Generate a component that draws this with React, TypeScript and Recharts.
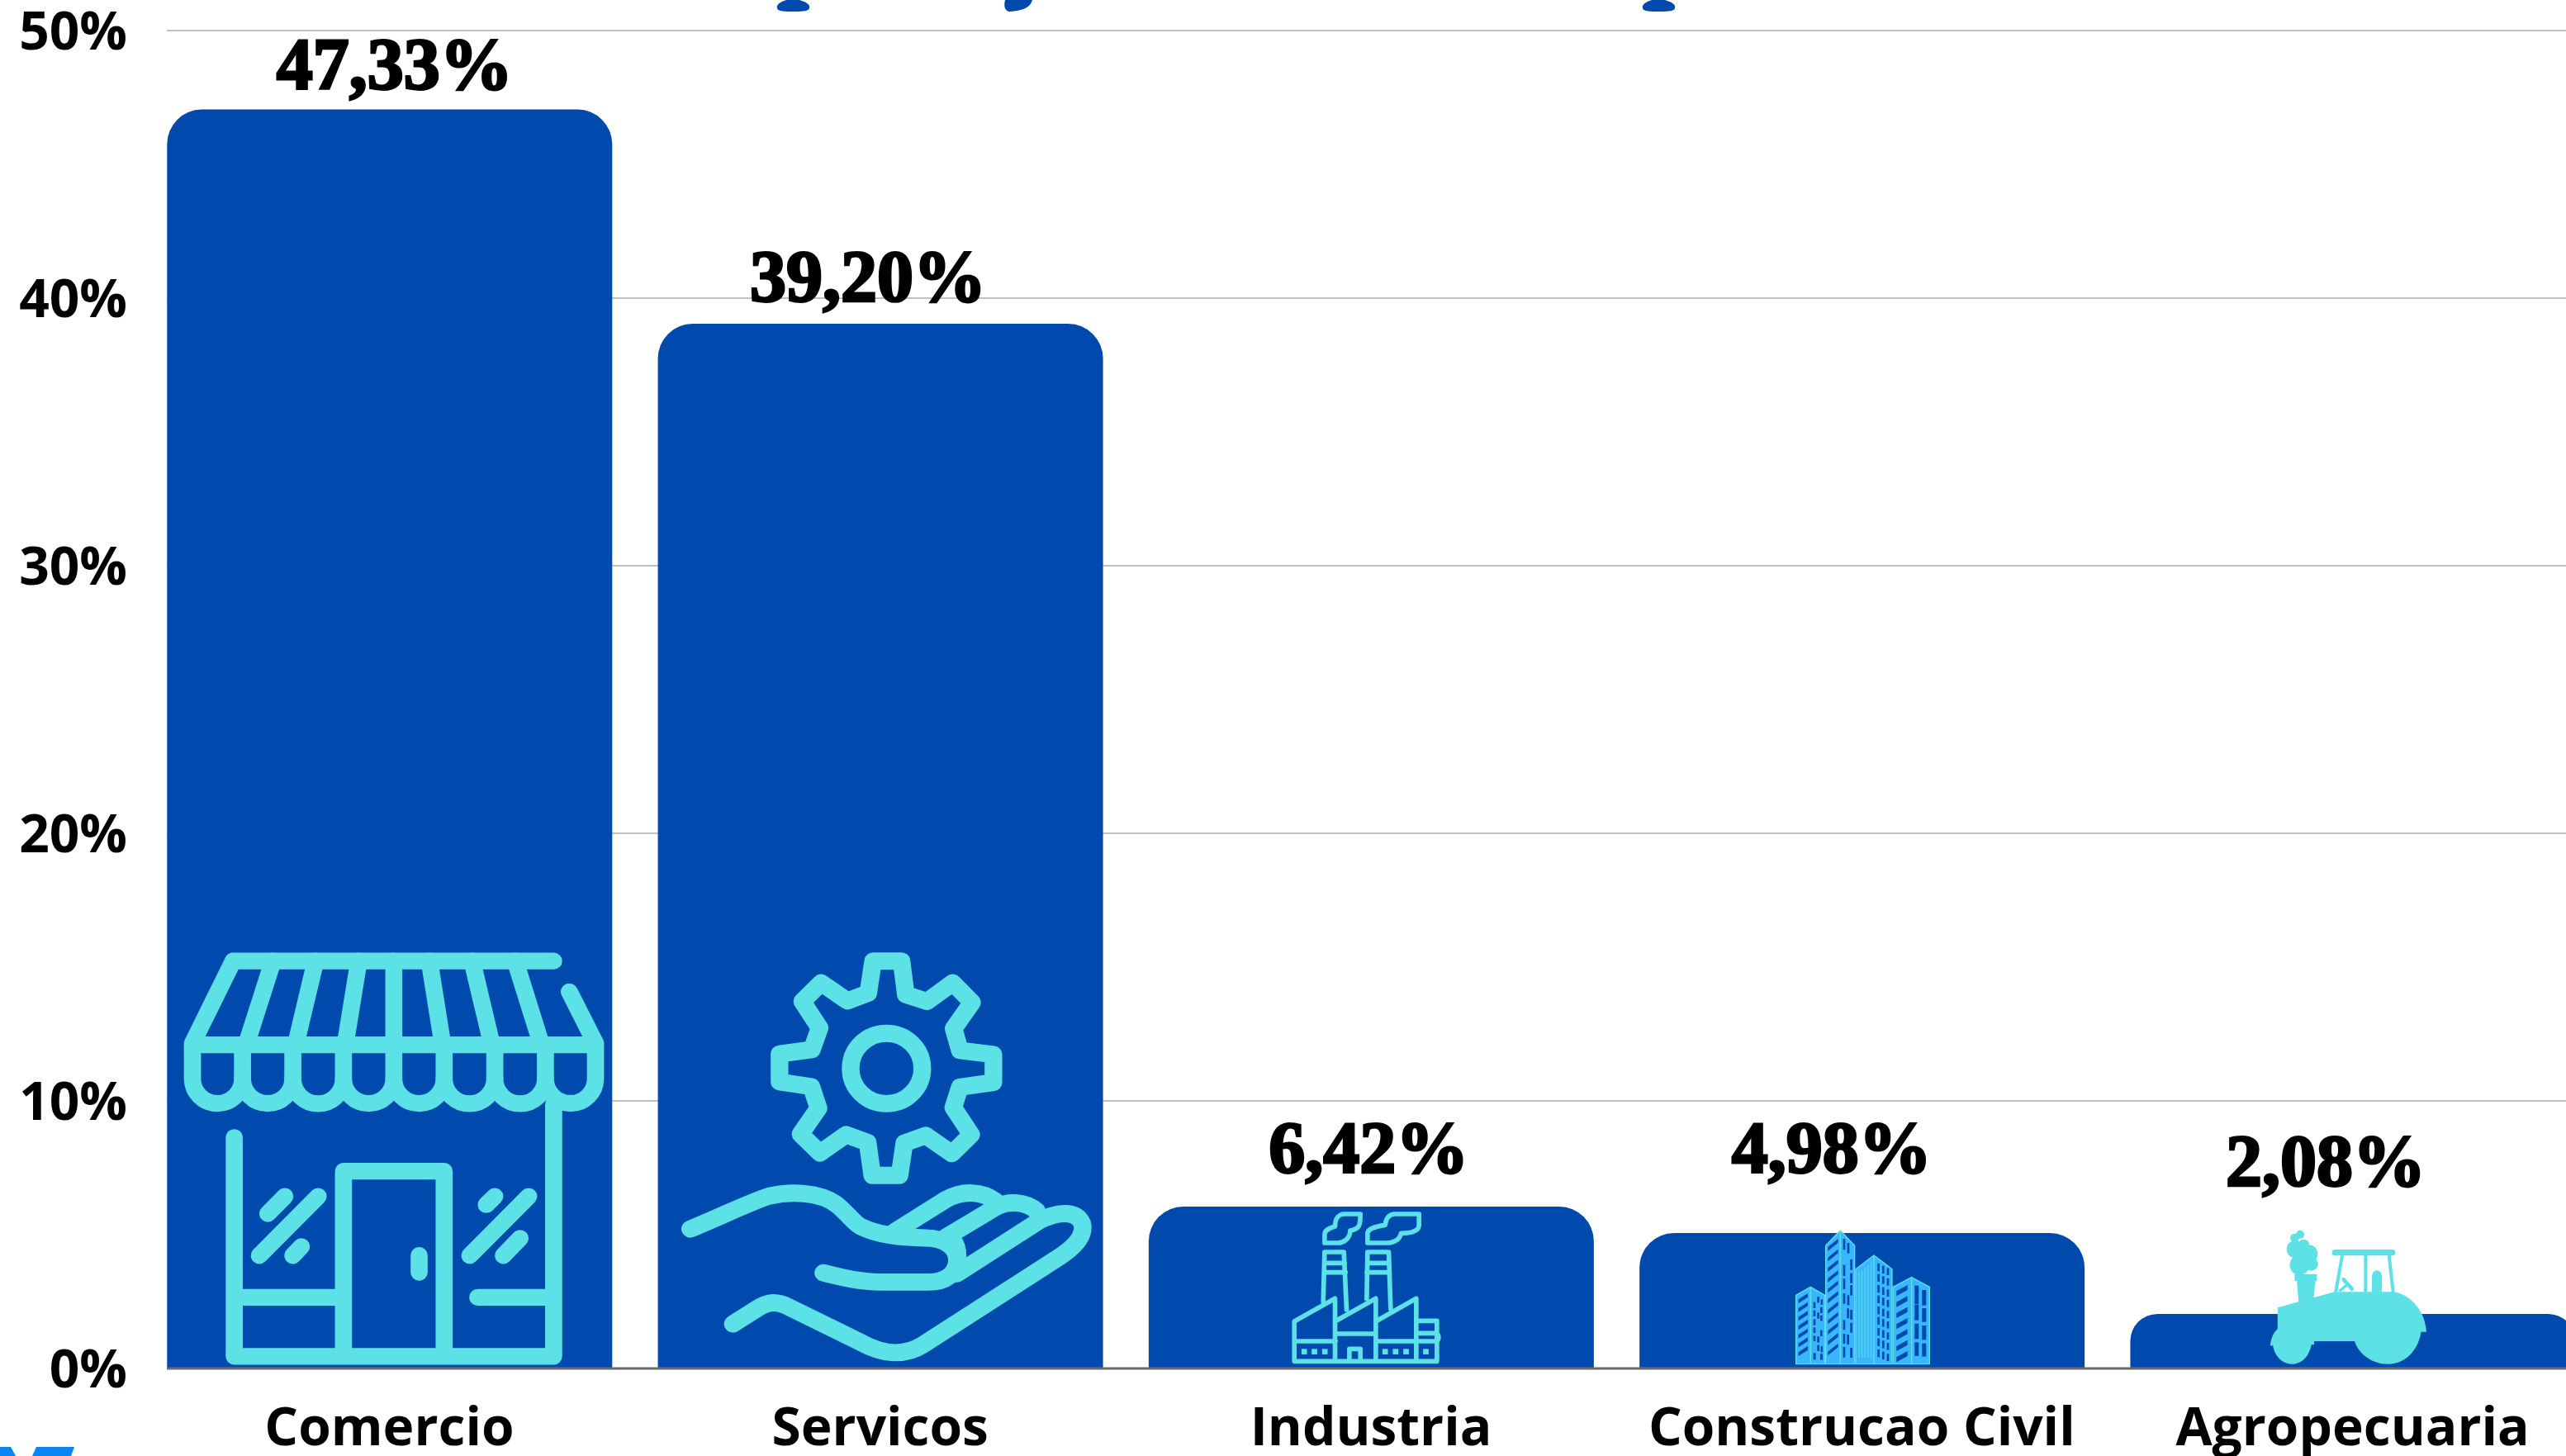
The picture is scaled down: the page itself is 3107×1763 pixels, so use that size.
import React from "react";
import { BarChart, Bar, XAxis, YAxis, CartesianGrid, LabelList, Rectangle } from "recharts";

const categories = ["Comercio", "Servicos", "Industria", "Construcao Civil", "Agropecuaria"];
const barValues = [47.05, 39.04, 6.05, 5.06, 2.04];
const valueLabels = ["47,33%", "39,20%", "6,42%", "4,98%", "2,08%"];
const yTicks = [0, 10, 20, 30, 40, 50];

const rows = categories.map((name, i) => ({ name, value: barValues[i], label: valueLabels[i] }));

const BLUE = "#004aad";
const CYAN = "#5ce1e6";
const SKY = "#38b6ff";

// Where each value label sits relative to the top-centre of its bar
const labelNudgeX = [6, -15, -3, -37, -33];
const labelRise = [26, 28, 42, 74, 156];

const StoreIcon = () => (
  <g transform="translate(-2,-517) scale(0.3444,0.338)" fill="none" stroke={CYAN} strokeWidth={60} strokeLinecap="round" strokeLinejoin="round">
    <path d="M1365 70H238L95 365M1420 180L1512 365M95 370H1512" />
    <path d="M378 70L284 370M528 70L458 370M680 70L632 370M803 70V370M928 70L975 370M1078 70L1148 370M1230 70L1322 370" />
    <path d="M95 370V492A88 88 0 0 0 271 492A88 88 0 0 0 448 492A88 88 0 0 0 626 492A88 88 0 0 0 803 492A88 88 0 0 0 980 492A88 88 0 0 0 1158 492A88 88 0 0 0 1336 492A88 88 0 0 0 1512 492V370" />
    <path d="M271 370V492M448 370V492M626 370V492M803 370V492M980 370V492M1158 370V492M1336 370V492" />
    <path d="M1365 585V1486H242V702M626 1486V823H980V1486M242 1275H626M1098 1275H1365M892 1125V1185" />
    <path d="M330 1125L537 913M360 975L420 913M448 1125L478 1093M1070 1125L1277 913M1128 943L1158 913M1188 1125L1247 1063" />
  </g>
);

const ServiceIcon = () => (
  <g transform="translate(4,-517) scale(0.3444,0.338)" fill="none" stroke={CYAN} strokeWidth={62} strokeLinecap="round" strokeLinejoin="round">
    <path d="M745 70H845L860 190L935 215L1025 148L1093 218L1028 312L1050 390L1168 405V505L1050 522L1027 595L1090 692L1022 760L930 695L855 722L838 838H742L726 720L650 692L558 758L490 690L553 597L528 520L416 503V403L530 387L557 310L496 215L562 148L655 213L728 185Z" />
    <circle cx={792} cy={455} r={126} />
    <path d="M102 1030C200 990 320 930 380 912C450 895 560 895 620 945C660 980 680 1010 700 1020C760 1050 830 1060 930 1062C1000 1062 1040 1100 1040 1140C1040 1190 1000 1220 940 1220H770C700 1220 640 1205 570 1187" />
    <path d="M252 1370L330 1320C380 1285 410 1290 450 1310L700 1435C770 1475 850 1490 920 1445L1400 1130C1460 1090 1490 1050 1480 1010C1460 965 1400 965 1330 1000L1040 1190" />
    <path d="M820 1040L1000 925C1060 890 1130 895 1175 930M1000 1060L1180 950C1220 930 1280 930 1320 965M1025 1070C1040 1090 1045 1120 1040 1150" />
  </g>
);

const FactoryIcon = () => (
  <g transform="translate(149,-207) scale(0.3333)" fill="none" stroke={CYAN} strokeWidth={17} strokeLinejoin="round" strokeLinecap="round">
    <path d="M82 595V450L230 367V595M230 450L378 367V595M378 450L525 367V595M82 595H600V448H525M82 522H232M230 495H378M378 522H600M525 493H595A15 15 0 0 1 595 522M282 590V550H322V590" />
    <path d="M187 378L192 198H262L272 408M192 238H265M190 272H268M345 368L348 198H425L432 405M348 238H425M345 272H428" />
    <path d="M192 165V135C192 115 215 110 230 105C230 80 240 60 265 60H322C322 100 320 115 285 120C285 150 260 165 240 165Z" />
    <path d="M348 165V130C350 110 385 105 412 100C415 75 425 62 445 60H535V100C535 120 510 130 470 130C465 155 440 165 420 165Z" />
    <g fill={CYAN} stroke="none">
      <rect x={108} y={550} width={20} height={20} />
      <rect x={145} y={550} width={20} height={20} />
      <rect x={183} y={550} width={20} height={20} />
      <rect x={402} y={550} width={20} height={20} />
      <rect x={440} y={550} width={20} height={20} />
      <rect x={478} y={550} width={20} height={20} />
      <rect x={550} y={550} width={20} height={20} />
    </g>
  </g>
);

const stripeRows = (xa: number, xb: number, rise: number, yStart: number, yEnd: number, step: number, h: number) => {
  const out: React.ReactNode[] = [];
  for (let y = yStart; y <= yEnd; y += step) {
    out.push(
      <polygon key={`${xa}-${y}`} points={`${xa},${y + rise} ${xb},${y} ${xb},${y + h} ${xa},${y + rise + h}`} fill={BLUE} />
    );
  }
  return out;
};

const BuildingsIcon = () => (
  <g transform="translate(164.5,-187) scale(0.3333)">
    <g fill={SKY} stroke={CYAN} strokeWidth={4} strokeLinejoin="round">
      <polygon points="75,295 128,265 180,295 180,545 75,545" />
      <polygon points="183,115 236,60 288,115 288,545 183,545" />
      <polygon points="292,200 358,150 424,200 424,545 292,545" />
      <polygon points="428,265 495,230 560,265 560,545 428,545" />
      <path d="M128 265V545M236 60V545M358 150V545M495 230V545" fill="none" />
    </g>
    {stripeRows(84, 118, 22, 288, 510, 32, 14)}
    {stripeRows(191, 228, 30, 90, 505, 38, 14)}
    {stripeRows(440, 480, 22, 258, 500, 40, 18)}
    <g fill={BLUE}>
      <rect x={138} y={505} width={9} height={24} /><rect x={163} y={508} width={9} height={22} />
      <rect x={152} y={300} width={8} height={22} /><rect x={165} y={310} width={7} height={20} />
      <rect x={138} y={320} width={8} height={22} /><rect x={163} y={338} width={8} height={22} />
      <rect x={138} y={350} width={8} height={22} /><rect x={152} y={358} width={8} height={22} />
      <rect x={138} y={382} width={8} height={22} /><rect x={163} y={368} width={8} height={20} />
      <rect x={138} y={412} width={8} height={20} /><rect x={163} y={422} width={8} height={22} />
      <rect x={138} y={442} width={8} height={20} /><rect x={152} y={445} width={8} height={22} />
      <rect x={152} y={476} width={8} height={22} /><rect x={165} y={480} width={7} height={22} />
      <rect x={246} y={90} width={8} height={40} /><rect x={261} y={105} width={8} height={38} />
      <rect x={246} y={185} width={8} height={40} /><rect x={272} y={165} width={8} height={38} />
      <rect x={272} y={215} width={8} height={36} /><rect x={246} y={235} width={8} height={38} />
      <rect x={272} y={258} width={8} height={38} /><rect x={246} y={288} width={8} height={38} />
      <rect x={261} y={295} width={8} height={36} /><rect x={260} y={343} width={8} height={36} />
      <rect x={272} y={348} width={8} height={36} /><rect x={246} y={385} width={8} height={36} />
      <rect x={272} y={395} width={8} height={36} /><rect x={246} y={435} width={8} height={36} />
      <rect x={260} y={438} width={8} height={36} /><rect x={246} y={483} width={8} height={38} />
      <rect x={272} y={486} width={8} height={36} />
      <rect x={506} y={260} width={15} height={68} /><rect x={533} y={276} width={15} height={56} />
      <rect x={506} y={330} width={15} height={56} /><rect x={533} y={342} width={15} height={50} />
      <rect x={506} y={398} width={15} height={56} /><rect x={533} y={405} width={15} height={52} />
      <rect x={506} y={466} width={15} height={50} /><rect x={533} y={470} width={15} height={48} />
    </g>
    <g fill={BLUE}>
      {[180, 218, 258, 296, 336, 374, 414, 452, 492].map((y) => (
        <React.Fragment key={y}>
          <rect x={371} y={y} width={8} height={28} />
          <rect x={388} y={y + 8} width={8} height={28} />
          <rect x={405} y={y + 16} width={8} height={26} />
        </React.Fragment>
      ))}
    </g>
    <path d="M304 210V522M315 205V522M326 195V522M337 185V522M348 170V522" stroke={CYAN} strokeWidth={3} fill="none" />
  </g>
);

const TractorIcon = () => (
  <g transform="translate(150,-187) scale(0.3333)" fill={CYAN}>
    <polygon points="147,218 228,218 228,243 222,243 216,310 162,325 155,243 147,243" />
    <path d="M85 340L292 283H510C570 295 620 350 626 428H606C600 480 560 545 485 545C430 545 380 510 365 462H218V475H208C200 515 175 545 138 545C100 545 75 515 68 478H58C62 450 70 430 85 418Z" />
    <path d="M320 150L296 285M405 150V285M490 150L505 285" stroke={CYAN} strokeWidth={12} fill="none" />
    <path d="M294 140H502" stroke={CYAN} strokeWidth={22} strokeLinecap="round" fill="none" />
    <path d="M428 285V225A18 20 0 0 1 464 225V285Z" />
    <path d="M310 280L340 255" stroke={CYAN} strokeWidth={10} fill="none" />
    <path d="M325 238L355 272" stroke={CYAN} strokeWidth={14} strokeLinecap="round" fill="none" />
    <circle cx={165} cy={185} r={36} /><circle cx={208} cy={182} r={24} /><circle cx={198} cy={145} r={33} />
    <circle cx={150} cy={128} r={32} /><circle cx={180} cy={112} r={20} /><circle cx={147} cy={87} r={16} /><circle cx={167} cy={74} r={15} />
  </g>
);

const icons = [StoreIcon, ServiceIcon, FactoryIcon, BuildingsIcon, TractorIcon];

const BarWithIcon = (props: any) => {
  const { x, y, width, height, index } = props;
  const Icon = icons[index];
  return (
    <g>
      <Rectangle x={x} y={y} width={width} height={height} radius={[42, 42, 0, 0]} fill={BLUE} />
      <g transform={`translate(${x},${y + height})`}>
        <Icon />
      </g>
    </g>
  );
};

const ValueLabel = (props: any) => {
  const { x, y, width, index, value } = props;
  return (
    <text
      x={x + width / 2 + labelNudgeX[index]}
      y={y - labelRise[index]}
      textAnchor="middle"
      fontFamily="'Liberation Serif'"
      fontWeight={700}
      fontSize={88}
      fill="#000"
      stroke="#000"
      strokeWidth={3}
    >
      {value}
    </text>
  );
};

export default function App() {
  return (
    <div style={{ position: "absolute", left: 0, top: 0, width: 3107, height: 1763, overflow: "hidden", background: "#fff" }}>
      <BarChart
        width={3200}
        height={1763}
        data={rows}
        margin={{ top: 37, right: 82, bottom: 0, left: 0 }}
        barSize={539}
      >
        <CartesianGrid vertical={false} stroke="#c0c0c0" strokeWidth={2} />
        <XAxis
          dataKey="name"
          height={106}
          interval={0}
          padding={{ left: -27.7, right: -27.7 }}
          tickLine={false}
          axisLine={{ stroke: "#6a6a6a", strokeWidth: 3 }}
          tickMargin={42}
          tick={{ fontFamily: "'Open Sans'", fontWeight: 700, fontSize: 64, fill: "#000" }}
        />
        <YAxis
          width={202}
          domain={[0, 50]}
          ticks={yTicks}
          tickFormatter={(v: number) => `${v}%`}
          tickLine={false}
          axisLine={false}
          tickMargin={42}
          tick={{ fontFamily: "'Open Sans'", fontWeight: 700, fontSize: 64, fill: "#000" }}
        />
        <Bar dataKey="value" isAnimationActive={false} shape={BarWithIcon}>
          <LabelList dataKey="label" content={ValueLabel} />
        </Bar>
      </BarChart>
      <svg width={3107} height={1763} style={{ position: "absolute", left: 0, top: 0, pointerEvents: "none" }}>
        <path d="M952 0C942 3 940 7 941 10C942 13 945 14 960 14C975 14 979 13 980 10C981 6 978 3 968 0Z" fill={BLUE} />
        <path d="M1250 0C1248 8 1240 13 1222 14C1217 13 1215 8 1217 0Z" fill={BLUE} />
        <path d="M2000 0C1990 3 1988 7 1989 10C1990 13 1993 14 2008 14C2023 14 2027 13 2028 10C2029 6 2026 3 2016 0Z" fill={BLUE} />
        <path d="M0 1752H13L19 1763H0Z" fill="#0a84f0" />
        <path d="M44 1752H90L86 1763H39Z" fill="#0a84f0" />
      </svg>
    </div>
  );
}
